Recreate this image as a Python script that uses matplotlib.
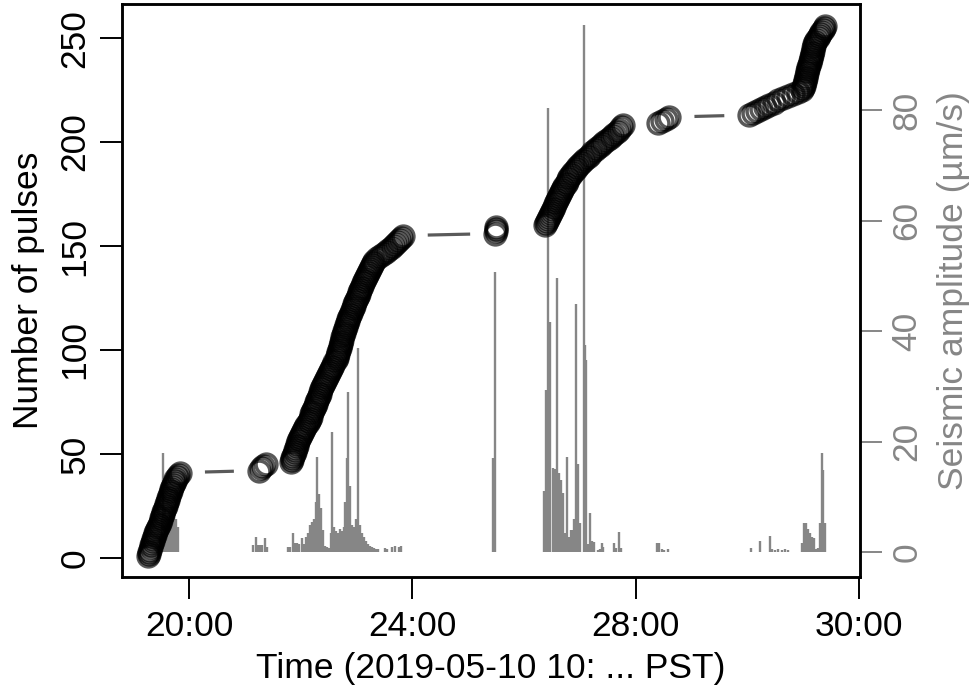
import matplotlib.pyplot as plt
import numpy as np

plt.rcParams['font.family'] = ['Liberation Sans', 'DejaVu Sans']

# pulse times, seconds after 10:00:00 (one entry per pulse, cumulative count = index)
pulses_a = [1156.0, 1156.8, 1157.5, 1158.3, 1159.0, 1159.6, 1160.3, 1161.0, 1161.6, 1162.2,
            1163.0, 1163.7, 1164.5, 1165.3, 1166.2, 1167.3, 1168.5, 1169.6, 1170.4, 1171.1,
            1171.9, 1172.6, 1173.4, 1174.1, 1174.9, 1175.6, 1176.4, 1177.1, 1177.9, 1178.6,
            1179.4, 1180.2, 1181.0, 1181.9, 1182.7, 1183.6, 1184.5, 1185.4, 1186.6, 1188.2,
            1190.3]
pulses_b = [1275.1, 1277.3, 1279.8, 1283.0]
pulses_c = [1309.5, 1310.3, 1311.0, 1311.9, 1312.6, 1313.5, 1314.2, 1315.0, 1315.9, 1316.6,
            1317.5, 1318.3, 1319.1, 1320.3, 1321.5, 1322.6, 1323.9, 1325.1, 1326.2, 1327.5,
            1328.7, 1329.9, 1330.8, 1331.6, 1332.5, 1333.4, 1334.2, 1335.1, 1336.0, 1336.9,
            1337.7, 1338.6, 1339.5, 1340.4, 1341.3, 1342.2, 1343.1, 1344.0, 1344.9, 1346.0,
            1347.0, 1348.1, 1349.2, 1350.2, 1351.3, 1352.5, 1353.8, 1355.1, 1356.3, 1357.6,
            1358.8, 1359.4, 1360.0, 1360.6, 1361.2, 1361.8, 1362.4, 1363.0, 1363.6, 1364.2,
            1364.9, 1365.5, 1366.2, 1366.9, 1367.6, 1368.2, 1368.9, 1369.6, 1370.5, 1371.4,
            1372.3, 1373.3, 1374.2, 1375.1, 1376.0, 1376.9, 1377.8, 1378.7, 1379.6, 1380.5,
            1381.4, 1382.3, 1383.2, 1384.1, 1385.0, 1385.9, 1386.8, 1387.9, 1388.9, 1390.0,
            1391.0, 1392.1, 1393.2, 1394.3, 1395.4, 1396.4, 1397.5, 1398.6, 1401.8, 1405.0,
            1408.2, 1411.4, 1414.1, 1416.8, 1419.0, 1421.1, 1423.2, 1425.4, 1427.5, 1429.7]
pulses_d = [1529.0, 1529.4, 1529.8, 1530.2]
pulses_e = [1582.1, 1583.2, 1584.3, 1585.3, 1586.4, 1587.5, 1588.6, 1589.6, 1590.7, 1591.8,
            1592.8, 1593.9, 1595.0, 1596.1, 1597.2, 1598.2, 1599.3, 1600.6, 1602.0, 1603.3,
            1604.6, 1606.0, 1607.3, 1608.7, 1610.0, 1611.8, 1613.6, 1615.4, 1617.2, 1619.0,
            1620.8, 1623.3, 1625.8, 1628.3, 1630.8, 1633.3, 1635.8, 1638.5, 1641.2, 1643.9,
            1646.5, 1649.2, 1651.9, 1654.4, 1656.9, 1659.4, 1661.9, 1664.4, 1666.9]
pulses_f = [1704.5, 1707.8, 1712.1, 1716.3]
pulses_g = [1802.1, 1806.4, 1810.7, 1815.0, 1819.3, 1823.6, 1829.0, 1833.2, 1838.6, 1844.0,
            1849.3, 1854.7, 1859.0, 1860.1, 1860.6, 1861.2, 1861.7, 1862.2, 1862.9, 1863.4,
            1864.0, 1864.6, 1865.1, 1865.7, 1866.3, 1866.8, 1867.4, 1868.0, 1868.6, 1869.1,
            1869.7, 1870.3, 1870.8, 1871.4, 1872.1, 1872.7, 1874.0, 1875.4, 1876.8, 1878.2,
            1879.6, 1881.0, 1882.3, 1883.7]

# seismic amplitude (um/s) at time (s)
seis_t = [1169.0, 1171.0, 1172.5, 1174.0, 1176.0, 1178.0, 1180.0, 1182.0, 1184.0, 1186.0, 1188.0,
          1268.7, 1271.9, 1274.1, 1276.2, 1278.3, 1281.6, 1283.7,
          1306.3, 1308.4, 1311.6, 1313.8, 1315.9, 1318.1, 1321.3, 1323.4, 1325.6, 1327.7,
          1329.9, 1332.0, 1334.2, 1336.3, 1337.4, 1339.5, 1341.7, 1343.8, 1346.0, 1348.1,
          1350.3, 1352.4, 1353.5, 1355.6, 1357.8, 1359.9, 1362.1, 1364.2, 1366.4, 1368.0,
          1369.6, 1371.3, 1372.8, 1375.0, 1377.1, 1379.2, 1381.4, 1383.5, 1385.7, 1387.8,
          1390.0, 1392.1, 1394.3, 1396.4, 1398.6, 1400.7, 1402.9,
          1410.4, 1412.5, 1417.9, 1421.1, 1425.4, 1427.5,
          1526.3, 1528.4,
          1581.0, 1583.2, 1585.3, 1587.5, 1591.2, 1592.8, 1595.0, 1597.1, 1599.3, 1601.4,
          1603.6, 1605.7, 1607.9, 1610.0, 1612.1, 1613.8, 1615.4, 1617.5, 1619.7, 1624.0,
          1625.1, 1626.7, 1628.3, 1630.5, 1632.6, 1634.8, 1639.1, 1641.2, 1643.4, 1645.0,
          1656.3, 1658.4, 1661.7, 1663.8,
          1703.4, 1705.5, 1708.7, 1710.9, 1715.2,
          1804.3, 1814.0, 1824.7, 1826.8, 1830.1, 1833.3, 1837.6, 1840.8, 1844.0,
          1859.0, 1861.2, 1863.3, 1865.5, 1867.6, 1869.8, 1871.9, 1874.1, 1876.2, 1878.4,
          1880.3, 1881.7, 1883.3]
seis_amp = [3.0, 6.0, 17.9, 8.0, 6.5, 6.0, 6.5, 7.0, 7.0, 6.0, 4.5,
            1.3, 2.7, 1.3, 1.3, 1.3, 2.5, 1.0,
            0.9, 1.0, 3.4, 1.6, 1.6, 1.4, 2.5, 1.5, 2.8, 3.5,
            5.0, 5.5, 6.0, 9.0, 17.3, 10.5, 8.0, 4.0, 1.2, 1.0,
            0.8, 3.5, 21.7, 4.5, 3.8, 3.4, 4.2, 3.8, 4.5, 9.0,
            17.0, 29.0, 12.0, 5.0, 4.5, 6.0, 37.0, 5.0, 3.4, 2.8,
            2.0, 1.5, 1.2, 1.0, 0.8, 0.6, 0.5,
            0.8, 0.6, 1.0, 1.2, 0.9, 1.2,
            17.0, 50.7,
            11.0, 29.3, 80.5, 41.6, 15.2, 15.0, 49.6, 14.3, 13.0, 10.7,
            3.4, 17.2, 2.7, 4.0, 4.0, 6.0, 45.0, 16.0, 5.3, 95.4,
            37.5, 34.8, 1.5, 7.1, 2.0, 1.8, 0.4, 0.6, 1.6, 1.0,
            1.6, 0.8, 3.6, 0.8,
            1.6, 1.6, 0.6, 0.4, 0.6,
            0.7, 2.0, 2.9, 0.6, 0.4, 0.5, 0.4, 0.5, 0.4,
            1.6, 5.2, 5.2, 4.2, 3.4, 2.8, 2.5, 0.5, 0.8, 5.2,
            17.9, 14.8, 5.2]

tick_pos = [1200, 1440, 1680, 1920]
tick_lab = ['20:00', '24:00', '28:00', '30:00']

pulse_t = np.array(pulses_a + pulses_b + pulses_c + pulses_d + pulses_e + pulses_f + pulses_g)
pulse_n = np.arange(1, len(pulse_t) + 1)

grey = '#868686'
fs = 25.5

fig = plt.figure(figsize=(9.75, 6.99), dpi=100)
ax = fig.add_axes([0.1251, 0.1745, 0.7569, 0.8192])
ax2 = ax.twinx()
ax.set_zorder(ax2.get_zorder() + 1)
ax.patch.set_visible(False)

# seismic amplitude as vertical lines (right axis)
ax2.vlines(seis_t, 0, seis_amp, color=grey, lw=1.7)
ax2.set_ylim(-4.5, 99.2)
ax2.set_yticks([0, 20, 40, 60, 80])
ax2.tick_params(axis='y', colors=grey, labelsize=fs, length=16, width=1.4, pad=6)
for lab in ax2.get_yticklabels():
    lab.set_rotation(90)
    lab.set_va('center')
ax2.set_ylabel('Seismic amplitude (µm/s)', color=grey, fontsize=fs, labelpad=10)

# cumulative pulse count
ax.set_xlim(1128, 1921)
ax.set_ylim(-9.2, 266.2)
ax.plot(pulse_t, pulse_n, 'o', ms=15, mfc='none', mec='black', mew=2.5, alpha=0.65)

# R type="b" style line: segments only between points, with gaps round the symbols
gap = 25
pts = ax.transData.transform(np.column_stack([pulse_t, pulse_n]))
inv = ax.transData.inverted()
for p0, p1 in zip(pts[:-1], pts[1:]):
    d = np.hypot(*(p1 - p0))
    if d > 2 * gap:
        u = (p1 - p0) / d
        seg = inv.transform(np.array([p0 + u * gap, p1 - u * gap]))
        ax.plot(seg[:, 0], seg[:, 1], color='#5a5a5a', lw=2.3, solid_capstyle='butt')

ax.set_xticks(tick_pos)
ax.set_xticklabels(tick_lab)
ax.set_yticks([0, 50, 100, 150, 200, 250])
ax.tick_params(axis='both', labelsize=fs, length=16, width=1.4)
ax.tick_params(axis='y', pad=6)
ax.tick_params(axis='x', pad=8)
for lab in ax.get_yticklabels():
    lab.set_rotation(90)
    lab.set_va('center')
ax.set_xlabel('Time (2019-05-10 10: ... PST)', fontsize=fs, labelpad=6)
ax.set_ylabel('Number of pulses', fontsize=fs, labelpad=10)

for a in (ax, ax2):
    for s in a.spines.values():
        s.set_linewidth(1.8)
        s.set_color('black')

fig.savefig('out.png', dpi=100)
